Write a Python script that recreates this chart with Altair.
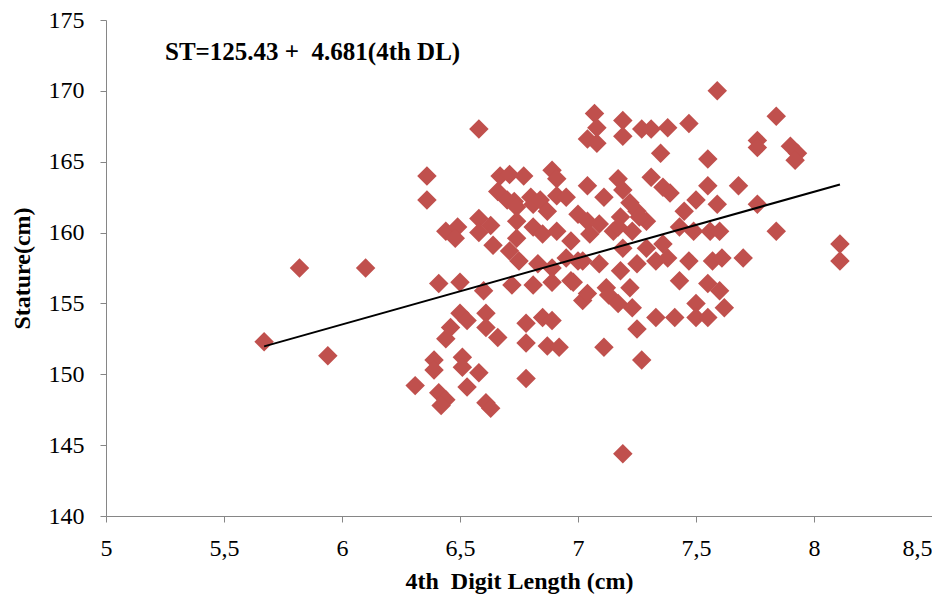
import altair as alt
import pandas as pd

# 4th digit length (cm) and stature (cm)
digit_length = [
    5.67, 5.82, 5.94, 6.10, 6.31, 6.36, 6.36, 6.39, 6.39, 6.41, 6.41, 6.44, 6.42, 6.44, 6.44,
    6.49, 6.48, 6.50, 6.50, 6.46, 6.53, 6.51, 6.51, 6.53, 6.58, 6.58, 6.63, 6.58, 6.58, 6.61,
    6.61, 6.60, 6.61, 6.63, 6.64, 6.66, 6.66, 6.67, 6.71, 6.70, 6.71, 6.72, 6.73, 6.74, 6.74,
    6.74, 6.75, 6.77, 6.78, 6.78, 6.78, 6.80, 6.81, 6.81, 6.81, 6.83, 6.84, 6.85, 6.85, 6.87,
    6.87, 6.89, 6.89, 6.89, 6.89, 6.91, 6.91, 6.91, 6.92, 6.95, 6.95, 6.97, 6.97, 6.98, 7.00,
    7.00, 7.02, 7.02, 7.04, 7.04, 7.04, 7.04, 7.05, 7.07, 7.08, 7.08, 7.09, 7.09, 7.11, 7.11,
    7.12, 7.13, 7.15, 7.17, 7.17, 7.18, 7.18, 7.19, 7.19, 7.19, 7.19, 7.19, 7.22, 7.22, 7.23,
    7.23, 7.25, 7.25, 7.25, 7.27, 7.27, 7.29, 7.29, 7.31, 7.31, 7.33, 7.33, 7.35, 7.36, 7.36,
    7.38, 7.39, 7.41, 7.43, 7.43, 7.45, 7.47, 7.47, 7.49, 7.50, 7.50, 7.50, 7.55, 7.55, 7.55,
    7.55, 7.56, 7.57, 7.59, 7.59, 7.60, 7.60, 7.61, 7.62, 7.68, 7.70, 7.76, 7.76, 7.76, 7.84,
    7.84, 7.90, 7.93, 7.92, 8.11, 8.11, 7.26, 7.17, 7.38,
]
stature = [
    152.3, 157.5, 151.3, 157.5, 149.2, 164.0, 162.3, 151.0, 150.3, 156.4, 148.7, 148.2, 147.8, 152.5, 160.1,
    160.4, 159.6, 156.5, 154.3, 153.3, 153.8, 151.2, 150.5, 149.1, 167.3, 161.0, 160.5, 160.0, 150.1, 154.3,
    153.3, 155.9, 148.0, 147.6, 159.1, 162.9, 152.6, 164.0, 164.1, 162.3, 158.7, 156.3, 162.2, 161.8, 160.8,
    159.6, 158.0, 164.0, 153.6, 152.2, 149.7, 162.5, 162.0, 160.4, 156.3, 157.8, 162.3, 159.9, 154.0, 161.5,
    152.0, 164.4, 157.5, 156.5, 153.8, 163.8, 162.6, 160.1, 151.9, 162.5, 158.2, 159.4, 156.6, 156.5, 161.3,
    158.0, 158.0, 155.2, 163.3, 166.6, 160.8, 155.7, 159.9, 168.4, 167.4, 166.3, 160.6, 157.8, 162.5, 151.9,
    156.1, 155.6, 160.1, 163.8, 155.0, 161.1, 157.3, 167.9, 166.8, 163.0, 158.9, 144.4, 162.1, 156.1, 160.1,
    154.7, 161.5, 157.8, 153.2, 167.3, 151.0, 160.8, 158.9, 167.3, 163.9, 158.0, 154.0, 165.6, 163.2, 159.2,
    167.4, 162.8, 154.0, 160.4, 156.6, 161.5, 167.7, 158.0, 160.1, 162.3, 155.0, 154.0, 165.2, 163.3, 156.4,
    154.0, 160.1, 158.0, 170.0, 162.0, 160.1, 155.9, 158.2, 154.7, 163.3, 158.2, 166.5, 166.0, 162.0, 168.2,
    160.1, 166.1, 165.6, 165.1, 159.2, 158.0, 161.1, 160.4, 158.2,
]

# regression: ST = 125.43 + 4.681 * (4th DL)
intercept = 125.43
slope = 4.681
line_x = [5.67, 8.11]

x_ticks = [5, 5.5, 6, 6.5, 7, 7.5, 8, 8.5]
y_ticks = [140, 145, 150, 155, 160, 165, 170, 175]

equation_text = ["ST=125.43 +\u00a0 4.681(4th DL)"]
x_title = "4th\u00a0 Digit Length (cm)"
y_title = "Stature(cm)"

pts = pd.DataFrame({"dl": digit_length, "st": stature})
line_df = pd.DataFrame({"dl": line_x, "st": [intercept + slope * v for v in line_x]})

FONT = "Liberation Serif"
AXIS_GRAY = "#868686"
FS = 24

x_scale = alt.Scale(domain=[5, 8.5], nice=False, zero=False)
y_scale = alt.Scale(domain=[140, 175], nice=False, zero=False)

x_axis = alt.Axis(
    values=x_ticks, grid=False, domainColor=AXIS_GRAY, tickColor=AXIS_GRAY, tickSize=6,
    labelFont=FONT, labelFontSize=FS, labelColor="black", labelPadding=14,
    labelExpr="replace(toString(datum.value), '.', ',')",
    labelAlign=alt.condition("datum.value == 8.5", alt.value("right"), alt.value("center")),
    title=x_title, titleFont=FONT, titleFontSize=FS, titleFontWeight="bold",
    titleColor="black", titleBaseline="middle", titleY=65,
)
y_axis = alt.Axis(
    values=y_ticks, grid=False, domainColor=AXIS_GRAY, tickColor=AXIS_GRAY, tickSize=6,
    labelFont=FONT, labelFontSize=FS, labelColor="black", labelPadding=16,
    title=y_title, titleFont=FONT, titleFontSize=FS, titleFontWeight="bold",
    titleColor="black", titleBaseline="middle", titleX=-84,
)

points = alt.Chart(pts).mark_point(
    shape="diamond", filled=True, color="#C0504D", opacity=1, size=380
).encode(
    x=alt.X("dl:Q", scale=x_scale, axis=x_axis),
    y=alt.Y("st:Q", scale=y_scale, axis=y_axis),
)

reg = alt.Chart(line_df).mark_line(color="black", strokeWidth=2).encode(
    x=alt.X("dl:Q", scale=x_scale),
    y=alt.Y("st:Q", scale=y_scale),
)

label = alt.Chart(pd.DataFrame({"t": equation_text})).mark_text(
    align="left", baseline="middle", font=FONT, fontSize=25, fontWeight="bold", color="black"
).encode(
    text="t:N", x=alt.value(59), y=alt.value(32)
)

chart = alt.layer(points, reg, label).properties(
    width=826, height=496,
    autosize=alt.AutoSizeParams(type="none"),
    padding={"left": 98, "top": 12, "right": 0, "bottom": 80},
).configure_view(stroke=None)

chart.save("out.html", embed_options={"renderer": "svg", "actions": False})
